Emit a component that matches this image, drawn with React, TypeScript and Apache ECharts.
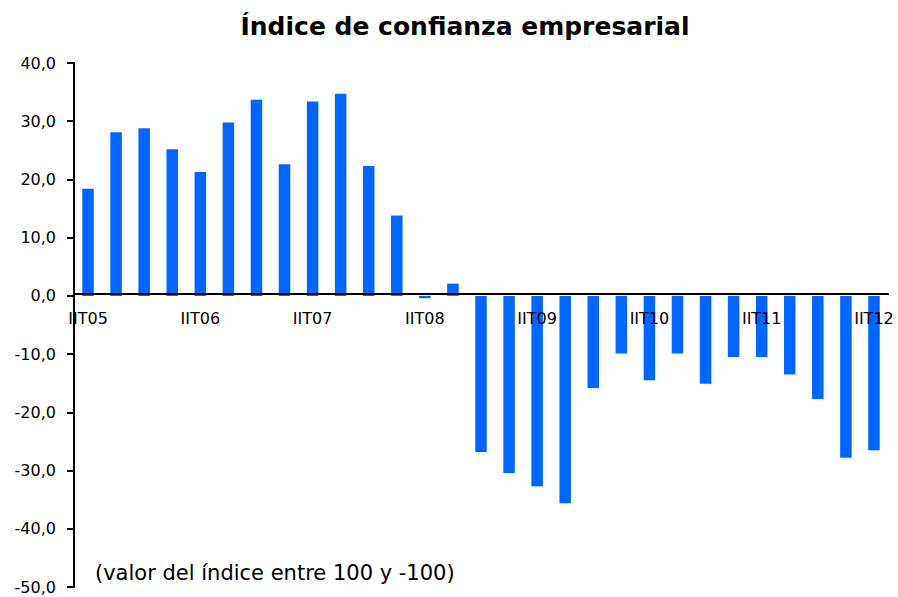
import React, { useEffect, useRef } from "react";
import * as echarts from "echarts";

const categories = [
  "IIT05", "IIIT05", "IVT05",
  "IT06", "IIT06", "IIIT06", "IVT06",
  "IT07", "IIT07", "IIIT07", "IVT07",
  "IT08", "IIT08", "IIIT08", "IVT08",
  "IT09", "IIT09", "IIIT09", "IVT09",
  "IT10", "IIT10", "IIIT10", "IVT10",
  "IT11", "IIT11", "IIIT11", "IVT11",
  "IT12", "IIT12",
];

const values = [
  18.4, 28.1, 28.8,
  25.2, 21.3, 29.8, 33.7,
  22.6, 33.4, 34.7, 22.3,
  13.8, -0.4, 2.1, -26.8,
  -30.4, -32.7, -35.6, -15.8,
  -9.9, -14.5, -9.9, -15.1,
  -10.5, -10.5, -13.5, -17.7,
  -27.8, -26.5,
];

const titleText = "Índice de confianza empresarial";
const noteText = "(valor del índice entre 100 y -100)";

const W = 898;
const H = 597;
const GRID_BOTTOM = 10;

export default function App() {
  const ref = useRef<HTMLDivElement>(null);
  useEffect(() => {
    if (!ref.current) return;
    const chart = echarts.init(ref.current, null, { renderer: "svg" });
    const font = "DejaVu Sans";
    chart.setOption({
      animation: false,
      backgroundColor: "#ffffff",
      title: {
        text: titleText,
        left: 460,
        top: 9,
        textAlign: "center",
        textStyle: { fontFamily: font, fontWeight: "bold", fontSize: 25, color: "#000" },
      },
      grid: { left: 74, right: 10, top: 63, bottom: GRID_BOTTOM, containLabel: false },
      xAxis: {
        type: "category",
        data: categories,
        z: 5,
        axisLine: { onZero: false, lineStyle: { color: "#000", width: 2 } },
        axisTick: { show: false },
        axisLabel: {
          interval: 3,
          margin: 16,
          fontFamily: font,
          fontSize: 16,
          color: "#000",
        },
      },
      yAxis: {
        type: "value",
        min: -50,
        max: 40,
        interval: 10,
        splitLine: { show: false },
        axisLine: { show: true, lineStyle: { color: "#000", width: 2 } },
        axisTick: { show: true, length: 7, lineStyle: { color: "#000", width: 2 } },
        axisLabel: {
          margin: 18,
          fontFamily: font,
          fontSize: 16,
          color: "#000",
          formatter: (v: number) => v.toFixed(1).replace(".", ","),
        },
      },
      series: [
        {
          type: "bar",
          data: values,
          barWidth: "41%",
          itemStyle: { color: "#0066ff" },
        },
      ],
      graphic: [
        {
          type: "text",
          left: 95,
          top: 562,
          style: { text: noteText, fontFamily: font, fontSize: 21, fill: "#000" },
        },
      ],
    });
    // Move the category axis (line + labels) up to the value 0 of the value axis
    const zeroY = chart.convertToPixel({ yAxisIndex: 0 }, 0) as number;
    const bottomY = H - GRID_BOTTOM;
    chart.setOption({ xAxis: { offset: -(bottomY - zeroY) + 8 } });
    return () => chart.dispose();
  }, []);
  return (
    <div
      ref={ref}
      style={{ position: "absolute", left: 0, top: 0, width: W, height: H }}
    />
  );
}
